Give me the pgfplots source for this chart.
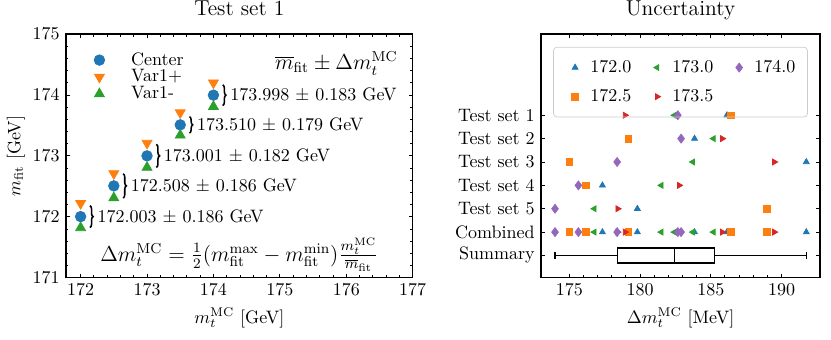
\documentclass[border=0pt]{standalone}
\usepackage{pgfplots}
\pgfplotsset{compat=1.18}
\usepgfplotslibrary{statistics}
\usetikzlibrary{decorations.pathreplacing}
\definecolor{c0}{HTML}{1F77B4}
\definecolor{c1}{HTML}{FF7F0E}
\definecolor{c2}{HTML}{2CA02C}
\definecolor{c3}{HTML}{D62728}
\definecolor{c4}{HTML}{9467BD}
\pgfplotsset{
  mpl/.style={
    scale only axis, axis line style={line width=0.8pt},
    tick align=inside, major tick length=2.3pt, minor tick length=1.3pt,
    tick style={black, line width=0.5pt},
    tick label style={font=\normalsize}, label style={font=\normalsize},
    title style={font=\large, at={(0.5,1)}, anchor=base, yshift=4.2pt},
  },
}
\tikzset{br/.style={black, line width=0.85pt, decorate, decoration={brace, amplitude=1.8pt}}}

\begin{document}
\begin{tikzpicture}
\useasboundingbox (-36.67pt,-34.61pt) rectangle (425pt,154.28pt);

% left: fitted mass vs. true mass
\begin{axis}[mpl, at={(0,0)}, anchor=south west,
  width=192.6pt, height=135.3pt,
  xmin=171.78, xmax=177, ymin=171, ymax=175,
  xtick={172,...,177}, ytick={171,...,175}, minor tick num=4,
  title={Test set 1},
  xlabel={$m_t^{\mathrm{MC}}$ [GeV]},
  ylabel={$m_{\mathrm{fit}}$ [GeV]}, ylabel shift=-2.5pt,
  legend cell align=left,
  legend style={at={(0.05,0.934)}, anchor=north west, draw=none, fill=none,
    inner sep=0pt, nodes={inner sep=1pt}, row sep=-1pt},
  legend image code/.code={\path (0cm,0cm) (0.875cm,0cm);
    \draw[mark repeat=2,mark phase=2,#1]
    plot coordinates {(0cm,0cm)(0.3cm,0cm)(0.6cm,0cm)};},
]
\addplot[only marks, mark=*, mark size=2.95pt, color=c0]
  coordinates {(172,172.003) (172.5,172.508) (173,173.001) (173.5,173.510) (174,173.998)};
\addplot[only marks, mark=triangle*, mark size=3.2pt, mark options={rotate=180}, color=c1]
  coordinates {(172,172.22) (172.5,172.71) (173,173.21) (173.5,173.71) (174,174.20)};
\addplot[only marks, mark=triangle*, mark size=3.2pt, color=c2]
  coordinates {(172,171.82) (172.5,172.31) (173,172.81) (173.5,173.34) (174,173.81)};
\legend{Center, Var1+, Var1-}

\draw[br] (axis cs:172.14,172.183) -- (axis cs:172.14,171.823);
\draw[br] (axis cs:172.64,172.708) -- (axis cs:172.64,172.308);
\draw[br] (axis cs:173.14,173.191) -- (axis cs:173.14,172.811);
\draw[br] (axis cs:173.64,173.645) -- (axis cs:173.64,173.375);
\draw[br] (axis cs:174.14,174.168) -- (axis cs:174.14,173.828);
\node[anchor=west, inner sep=0pt] at (axis cs:172.25,172.003) {172.003 $\pm$ 0.186 GeV};
\node[anchor=west, inner sep=0pt] at (axis cs:172.75,172.508) {172.508 $\pm$ 0.186 GeV};
\node[anchor=west, inner sep=0pt] at (axis cs:173.25,173.001) {173.001 $\pm$ 0.182 GeV};
\node[anchor=west, inner sep=0pt] at (axis cs:173.75,173.510) {173.510 $\pm$ 0.179 GeV};
\node[anchor=west, inner sep=0pt] at (axis cs:174.25,173.998) {173.998 $\pm$ 0.183 GeV};

\node[anchor=north east, inner sep=0pt, font=\large] at ([xshift=-8.2pt,yshift=-9.7pt]rel axis cs:1,1)
  {$\overline{m}_{\mathrm{fit}} \pm \Delta m_t^{\mathrm{MC}}$};
\node[inner sep=0pt, font=\large] at (rel axis cs:0.5,0.095)
  {$\Delta m_t^{\mathrm{MC}} = \frac{1}{2}\bigl(m_{\mathrm{fit}}^{\max} - m_{\mathrm{fit}}^{\min}\bigr)\frac{m_t^{\mathrm{MC}}}{\overline{m}_{\mathrm{fit}}}$};
\end{axis}

% right: uncertainty per test set
\begin{axis}[mpl, at={(263.9pt,0)}, anchor=south west,
  width=155pt, height=135.3pt,
  xmin=173.0, xmax=192.72, ymin=-0.95, ymax=9.47,
  xtick={175,180,185,190}, minor x tick num=4,
  ytick={0,...,6},
  yticklabels={Summary,Combined,Test set 5,Test set 4,Test set 3,Test set 2,Test set 1},
  title={Uncertainty},
  xlabel={$\Delta m_t^{\mathrm{MC}}$ [MeV]},
  legend columns=3,
  legend cell align=left,
  legend style={at={(0.5,0.948)}, anchor=north, draw=black!20, fill=none,
    rounded corners=2pt, inner xsep=4.7pt, inner ysep=5.2pt, row sep=3.9pt,
    /tikz/every even column/.append style={column sep=5pt}},
  legend image code/.code={\path (0cm,0cm) (13.4pt,0cm);
    \draw[mark repeat=2,mark phase=2,#1]
    plot coordinates {(0cm,0cm)(0.25cm,0cm)(0.5cm,0cm)};},
]
\addplot[forget plot, black, line width=0.7pt, boxplot/draw direction=x,
  boxplot prepared={lower whisker=173.99, lower quartile=178.38, median=182.43,
    upper quartile=185.26, upper whisker=191.75, draw position=0,
    box extend=0.64, whisker extend=0.27}] coordinates {};
% 172.0
\addplot[forget plot, only marks, mark=triangle*, mark size=1.92pt, color=c0]
  coordinates {(186.14,6) (183.85,5) (191.75,4) (177.34,3) (179.81,2)
               (186.14,1) (183.85,1) (191.75,1) (177.34,1) (179.81,1)};
% 172.5
\addplot[forget plot, only marks, mark=square*, mark size=1.85pt, color=c1]
  coordinates {(186.44,6) (179.18,5) (175.00,4) (176.18,3) (188.97,2)
               (186.44,1) (179.18,1) (175.00,1) (176.18,1) (188.97,1)};
% 173.0
\addplot[forget plot, only marks, mark=triangle*, mark size=1.92pt, mark options={rotate=90}, color=c2]
  coordinates {(182.43,6) (185.19,5) (183.73,4) (181.50,3) (176.77,2)
               (182.43,1) (185.19,1) (183.73,1) (181.50,1) (176.77,1)};
% 173.5
\addplot[forget plot, only marks, mark=triangle*, mark size=1.92pt, mark options={rotate=-90}, color=c3]
  coordinates {(178.94,6) (185.81,5) (189.49,4) (182.77,3) (178.42,2)
               (178.94,1) (185.81,1) (189.49,1) (182.77,1) (178.42,1)};
% 174.0
\addplot[forget plot, only marks, mark=diamond*, mark size=2.5pt, color=c4]
  coordinates {(182.67,6) (182.90,5) (178.38,4) (175.64,3) (173.99,2)
               (182.67,1) (182.90,1) (178.38,1) (175.64,1) (173.99,1)};

\addlegendimage{only marks, mark=triangle*, mark size=1.92pt, color=c0}
\addlegendentry{172.0}
\addlegendimage{only marks, mark=triangle*, mark size=1.92pt, mark options={rotate=90}, color=c2}
\addlegendentry{173.0}
\addlegendimage{only marks, mark=diamond*, mark size=2.5pt, color=c4}
\addlegendentry{174.0}
\addlegendimage{only marks, mark=square*, mark size=1.85pt, color=c1}
\addlegendentry{172.5}
\addlegendimage{only marks, mark=triangle*, mark size=1.92pt, mark options={rotate=-90}, color=c3}
\addlegendentry{173.5}
\end{axis}
\end{tikzpicture}
\end{document}
